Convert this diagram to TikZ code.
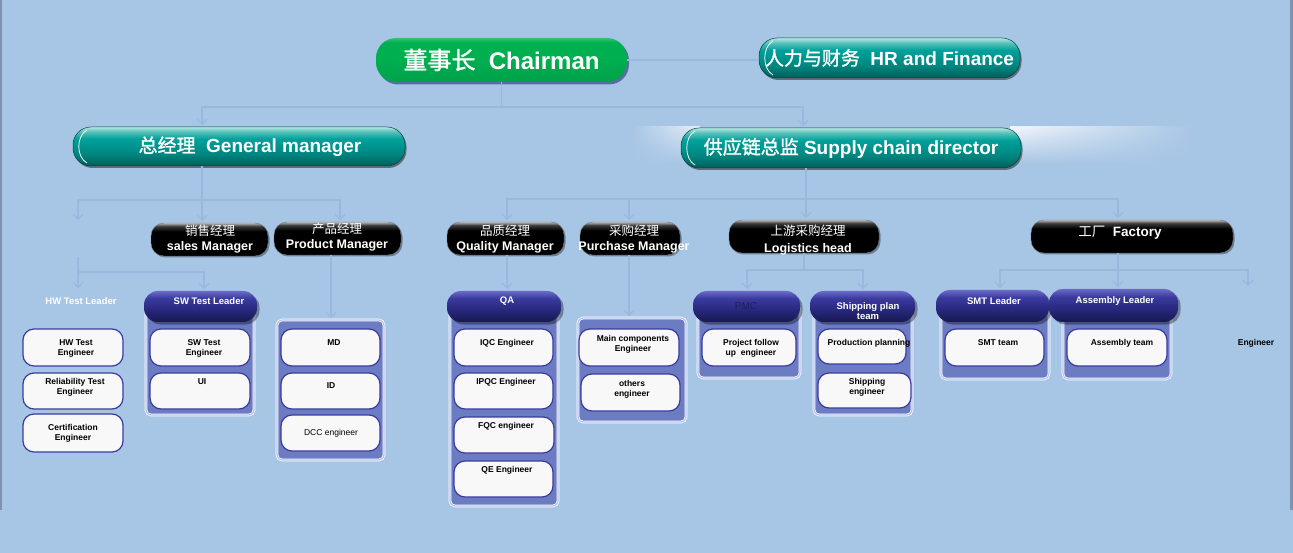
\documentclass[tikz,border=0pt]{standalone}
\usepackage{fontspec}
\setmainfont{Liberation Sans}
\newfontfamily\cjk{Noto Sans CJK SC}
\newfontfamily\cjkb[FakeBold=1.5]{Noto Sans CJK SC}
\usetikzlibrary{arrows.meta,shadows,fadings}
\definecolor{bgblue}{HTML}{A7C5E5}
\definecolor{edgeblue}{HTML}{7F93B0}
\definecolor{wirec}{HTML}{98B8DD}
\definecolor{contblue}{HTML}{6B7CC2}
\definecolor{contgap}{HTML}{B4C2EC}
\definecolor{iborder}{HTML}{3A3AA0}
\definecolor{ifill}{HTML}{F8F8F8}
\definecolor{pmcink}{HTML}{1E1E66}
\definecolor{tA}{HTML}{B6E7E1}
\definecolor{tB}{HTML}{56C2BA}
\definecolor{tC}{HTML}{00A19B}
\definecolor{tD}{HTML}{00857F}
\definecolor{tE}{HTML}{005E5A}
\definecolor{gA}{HTML}{34C470}
\definecolor{gB}{HTML}{00B050}
\definecolor{gC}{HTML}{00A24A}
\definecolor{kA}{HTML}{B8B8B8}
\definecolor{kB}{HTML}{3A3A3A}
\definecolor{nA}{HTML}{6A6AC8}
\definecolor{nB}{HTML}{3A3A9E}
\definecolor{nC}{HTML}{28287E}
\definecolor{nD}{HTML}{181850}
\pgfdeclareverticalshading{tealgloss}{100bp}{color(0bp)=(tE); color(25bp)=(tE); color(40bp)=(tD); color(60bp)=(tC); color(69bp)=(tB); color(75bp)=(tA); color(100bp)=(tA)}
\pgfdeclareverticalshading{greengloss}{100bp}{color(0bp)=(gC); color(25bp)=(gC); color(55bp)=(gB); color(70bp)=(gB); color(75bp)=(gA); color(100bp)=(gA)}
\pgfdeclareverticalshading{blackgloss}{100bp}{color(0bp)=(black); color(25bp)=(black); color(62bp)=(black); color(70bp)=(kB); color(75bp)=(kA); color(100bp)=(kA)}
\pgfdeclareverticalshading{navygloss}{100bp}{color(0bp)=(nD); color(25bp)=(nD); color(45bp)=(nC); color(63bp)=(nB); color(75bp)=(nA); color(100bp)=(nA)}
\tikzfading[name=glowdown, top color=transparent!5, bottom color=transparent!100]
\pgfdeclarelayer{back}
\pgfsetlayers{back,main}
\tikzset{
  box/.style={inner sep=0pt, outer sep=0pt},
  tealbox/.style={box, shading=tealgloss, draw=tE!70!black, line width=.5pt, rounded corners=18pt,
    text=white, font=\fontsize{19}{22}\selectfont\bfseries,
    drop shadow={shadow xshift=1.5pt,shadow yshift=-2pt,fill=black!80,opacity=.6},
    path picture={\draw[white!85!tA, line width=.8pt]
      ([xshift=14pt,yshift=-3pt]path picture bounding box.north west)
      .. controls ([xshift=3pt,yshift=-9pt]path picture bounding box.north west)
      and ([xshift=3pt,yshift=9pt]path picture bounding box.south west)
      .. ([xshift=14pt,yshift=3pt]path picture bounding box.south west);}},
  greenbox/.style={box, shading=greengloss, draw=none, rounded corners=20pt,
    text=white, font=\fontsize{24}{28}\selectfont\bfseries,
    drop shadow={shadow xshift=2pt,shadow yshift=-2.5pt,fill=black!70!blue,opacity=.45}},
  blackbox/.style={box, shading=blackgloss, draw=black!55, line width=.4pt, rounded corners=13pt,
    drop shadow={shadow xshift=1.5pt,shadow yshift=-1.5pt,fill=black,opacity=.35}},
  navyhead/.style={box, shading=navygloss, rounded corners=14pt,
    drop shadow={shadow xshift=2.5pt,shadow yshift=-2.5pt,fill=black,opacity=.35}},
  contbox/.style={box, fill=contblue, draw=white, double=contgap, double distance=1.2pt, line width=.7pt, rounded corners=5pt},
  ibox/.style={box, fill=ifill, draw=iborder, line width=1.2pt, rounded corners=11pt},
  itxt/.style={align=center, font=\fontsize{8.5}{10}\selectfont\bfseries, text=black, inner sep=0pt},
  htxt/.style={align=center, font=\fontsize{9.5}{11}\selectfont\bfseries, text=white, inner sep=0pt},
  ktxt/.style={align=center, font=\fontsize{12.5}{15}\selectfont, text=white, inner sep=0pt},
  wire/.style={draw=wirec, line width=1.1pt},
  arr/.style={wire, -{Straight Barb[length=5pt,width=10pt]}, shorten >=2pt},
}
\begin{document}
\begin{tikzpicture}[x=1pt,y=-1pt]
\useasboundingbox (0,0) rectangle (1293,553);
\begin{pgfonlayer}{back}
\fill[bgblue] (0,0) rectangle (1293,553);
\fill[edgeblue] (0,0) rectangle (2,510);
\fill[edgeblue] (1290,0) rectangle (1293,510);
\shade[left color=bgblue, right color=white!75!bgblue, path fading=glowdown] (630,127) rectangle (700,164);
\shade[left color=white!90!bgblue, right color=bgblue, path fading=glowdown] (1010,127) rectangle (1195,164);
\end{pgfonlayer}

% top level
\node[greenbox, minimum width=251, minimum height=44] (chair) at (501.5,60) {{\mdseries\cjkb 董事长}\ \ Chairman};
\node[tealbox, minimum width=261, minimum height=40] (hr) at (889.5,58) {{\mdseries\cjkb 人力与财务}\ \ HR and Finance};
\node[tealbox, minimum width=332, minimum height=39] (gm) at (239,146.5) {\hspace*{22pt}{\mdseries\cjkb 总经理}\ \ General manager};
\node[tealbox, minimum width=340, minimum height=40] (scd) at (851,148) {{\mdseries\cjkb 供应链总监}\ Supply chain director};

% black managers
\node[blackbox, minimum width=117, minimum height=33] (sales) at (209.5,239.5) {};
\node[ktxt] (salesT) at (210,239) {{\cjk 销售经理}\\\bfseries sales Manager};
\node[blackbox, minimum width=127, minimum height=33] (prod) at (337.5,238.5) {};
\node[ktxt] (prodT) at (337,237) {{\cjk 产品经理}\\\bfseries Product Manager};
\node[blackbox, minimum width=117, minimum height=33] (qual) at (505.5,238.5) {};
\node[ktxt] (qualT) at (505,239) {{\cjk 品质经理}\\\bfseries Quality Manager};
\node[blackbox, minimum width=100, minimum height=33] (pur) at (630,238.5) {};
\node[ktxt] (purT) at (634,239) {{\cjk 采购经理}\\\bfseries Purchase Manager};
\node[blackbox, minimum width=150, minimum height=33] (log) at (804,236.5) {};
\node[ktxt] (logT) at (808,240) {{\cjk 上游采购经理}\\[2pt]\bfseries Logistics head};
\node[blackbox, minimum width=202, minimum height=33] (fac) at (1132,236.5) {};
\node[ktxt, font=\fontsize{13.5}{15}\selectfont] (facT) at (1120,233) {{\cjk 工厂}\ \ \bfseries Factory};

% containers
\node[contbox, minimum width=108, minimum height=110] (swC) at (200,360) {};
\node[contbox, minimum width=107, minimum height=140] (prodC) at (330.5,390) {};
\node[contbox, minimum width=108, minimum height=201] (qaC) at (504,405.5) {};
\node[contbox, minimum width=108, minimum height=104] (purC) at (632,370) {};
\node[contbox, minimum width=102, minimum height=73] (pmcC) at (749,341.5) {};
\node[contbox, minimum width=98, minimum height=110] (shipC) at (863,360) {};
\node[contbox, minimum width=108, minimum height=74] (smtC) at (995,342) {};
\node[contbox, minimum width=108, minimum height=74] (asmC) at (1117,342) {};

% navy headers
\node[navyhead, minimum width=113, minimum height=31] (swH) at (200.5,306.5) {};
\node[htxt] (swT) at (209,301) {SW Test Leader};
\node[navyhead, minimum width=114, minimum height=31] (qaH) at (504,306.5) {};
\node[htxt] (qaT) at (507,301) {QA};
\node[navyhead, minimum width=107, minimum height=31] (pmcH) at (746.5,306.5) {};
\node[htxt, text=pmcink, font=\fontsize{10}{12}\selectfont] (pmcT) at (746,306) {PMC};
\node[navyhead, minimum width=105, minimum height=31] (shipH) at (862.5,306.5) {};
\node[htxt, font=\fontsize{9.5}{10.5}\selectfont\bfseries] (shipT) at (868,311) {Shipping plan\\team};
\node[navyhead, minimum width=113, minimum height=32] (smtH) at (992.5,306) {};
\node[htxt] (smtT) at (994,301) {SMT Leader};
\node[navyhead, minimum width=129, minimum height=33] (asmH) at (1113.5,305.5) {};
\node[htxt] (asmT) at (1115,301) {Assembly Leader};
\node[htxt] (hwl) at (81,301) {HW Test Leader};

% inner boxes
\node[ibox, minimum width=100, minimum height=37] (hw1) at (73,347.5) {};
\node[ibox, minimum width=100, minimum height=36] (hw2) at (73,391) {};
\node[ibox, minimum width=100, minimum height=38] (hw3) at (73,433) {};
\node[ibox, minimum width=100, minimum height=37] (sw1) at (200,347.5) {};
\node[ibox, minimum width=100, minimum height=36] (sw2) at (200,391) {};
\node[ibox, minimum width=99, minimum height=37] (md) at (330.5,347.5) {};
\node[ibox, minimum width=99, minimum height=36] (id) at (330.5,391) {};
\node[ibox, minimum width=99, minimum height=36] (dcc) at (330.5,433) {};
\node[ibox, minimum width=99, minimum height=37] (iqc) at (503.5,347.5) {};
\node[ibox, minimum width=99, minimum height=36] (ipqc) at (503.5,391) {};
\node[ibox, minimum width=100, minimum height=36] (fqc) at (504,435) {};
\node[ibox, minimum width=99, minimum height=36] (qe) at (503.5,479) {};
\node[ibox, minimum width=100, minimum height=37] (mce) at (629,347.5) {};
\node[ibox, minimum width=99, minimum height=37] (oth) at (630.5,392.5) {};
\node[ibox, minimum width=94, minimum height=37] (pfu) at (749,347.5) {};
\node[ibox, minimum width=88, minimum height=35] (pp) at (862,346.5) {};
\node[ibox, minimum width=93, minimum height=35] (se) at (864.5,390.5) {};
\node[ibox, minimum width=99, minimum height=37] (smt) at (994.5,347.5) {};
\node[ibox, minimum width=100, minimum height=37] (asm) at (1117,347.5) {};

% inner texts
\node[itxt] (hw1T) at (76,348) {HW Test\\Engineer};
\node[itxt] (hw2T) at (75,387) {Reliability Test\\Engineer};
\node[itxt] (hw3T) at (73,433) {Certification\\Engineer};
\node[itxt] (sw1T) at (204,348) {SW Test\\Engineer};
\node[itxt] (sw2T) at (202,382) {UI};
\node[itxt] (mdT) at (334,343) {MD};
\node[itxt] (idT) at (331,386) {ID};
\node[itxt, font=\fontsize{8.5}{10}\selectfont] (dccT) at (331,433) {DCC engineer};
\node[itxt] (iqcT) at (507,343) {IQC Engineer};
\node[itxt] (ipqcT) at (506,382) {IPQC Engineer};
\node[itxt] (fqcT) at (506,426) {FQC engineer};
\node[itxt] (qeT) at (507,470) {QE Engineer};
\node[itxt] (mceT) at (633,344) {Main components\\Engineer};
\node[itxt] (othT) at (632,389) {others\\engineer};
\node[itxt] (pfuT) at (751,348) {Project follow\\up\ \ engineer};
\node[itxt] (ppT) at (869,343) {Production planning};
\node[itxt] (seT) at (867,387) {Shipping\\engineer};
\node[itxt] (smtT2) at (998,343) {SMT team};
\node[itxt] (asmT2) at (1122,343) {Assembly team};
\node[itxt] (eng) at (1256,343) {Engineer};

% connector end points
\coordinate (gmIn) at (202,127);
\coordinate (scdIn) at (803,128);
\coordinate (gmOut) at (202,166.5);
\coordinate (hbTop) at (78,222);
\coordinate (hbBot) at (78,257);
\coordinate (salesIn) at (202,223);
\coordinate (prodIn) at (340,222);
\coordinate (hwlIn) at (78,290);
\coordinate (swIn) at (204,291);
\coordinate (prodOut) at (331,255);
\coordinate (prodCIn) at (331,320);
\coordinate (scdOut) at (806,168);
\coordinate (qualIn) at (507,222);
\coordinate (purIn) at (629,222);
\coordinate (logIn) at (806,220);
\coordinate (facIn) at (1118,220);
\coordinate (qualOut) at (507,255);
\coordinate (qaIn) at (507,291);
\coordinate (purOut) at (629,255);
\coordinate (purCIn) at (629,318);
\coordinate (logOut) at (804,253);
\coordinate (pmcIn) at (747,291);
\coordinate (shipIn) at (863,291);
\coordinate (facOut) at (1118,253);
\coordinate (smtIn) at (1000,290);
\coordinate (asmIn) at (1118,289);
\coordinate (engIn) at (1248,288);

% connectors
\draw[wire] (chair.east) -- (chair.east -| hr.west);
\draw[arr] (chair.south) -- ++(0,25) -| (gmIn);
\draw[arr] (chair.south) -- ++(0,25) -| (scdIn);
\draw[arr] (gmOut) -- ++(0,33.5) -| (hbTop);
\draw[arr] (gmOut) -- (salesIn);
\draw[arr] (gmOut) -- ++(0,33.5) -| (prodIn);
\draw[arr] (hbBot) -- (hwlIn);
\draw[arr] (hbBot) -- ++(0,15) -| (swIn);
\draw[arr] (prodOut) -- (prodCIn);
\draw[arr] (scdOut) -- ++(0,31) -| (qualIn);
\draw[arr] (scdOut) -- ++(0,31) -| (purIn);
\draw[arr] (scdOut) -- (logIn);
\draw[arr] (scdOut) -- ++(0,31) -| (facIn);
\draw[arr] (qualOut) -- (qaIn);
\draw[arr] (purOut) -- (purCIn);
\draw[arr] (logOut) -- ++(0,17) -| (pmcIn);
\draw[arr] (logOut) -- ++(0,17) -| (shipIn);
\draw[arr] (facOut) -- ++(0,17) -| (smtIn);
\draw[arr] (facOut) -- (asmIn);
\draw[arr] (facOut) -- ++(0,17) -| (engIn);
\end{tikzpicture}
\end{document}
